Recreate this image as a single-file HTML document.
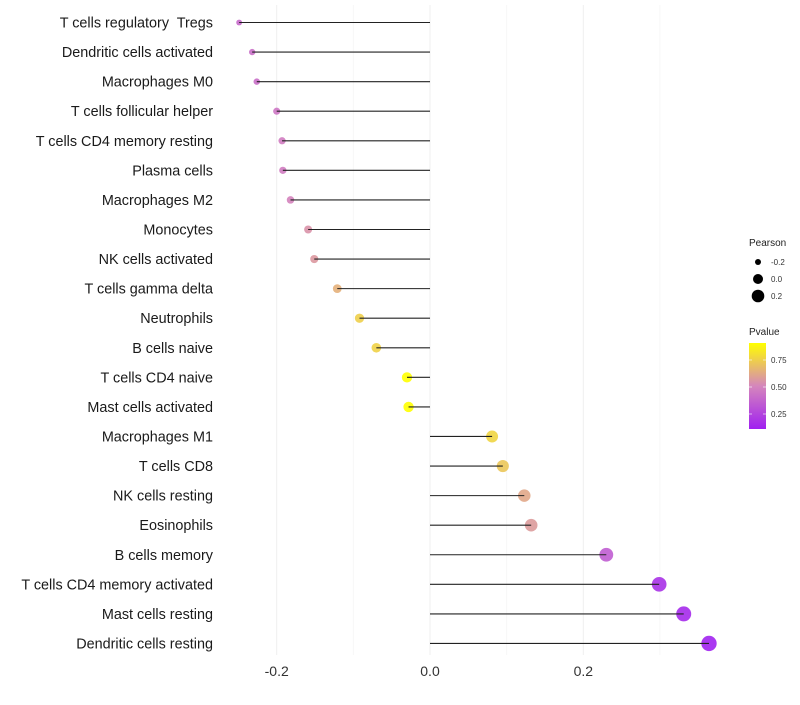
<!DOCTYPE html>
<html><head><meta charset="utf-8"><style>
body{margin:0;background:#fff;}
svg text{font-family:"Liberation Sans",sans-serif;white-space:pre;}
</style></head><body>
<svg id="chart" width="800" height="700" xmlns="http://www.w3.org/2000/svg">
<g id="grid"></g>
<g id="marks"></g>
<g id="labels"></g>
<g id="xticks"></g>
<g>
<text x="749" y="246" font-size="10" fill="#222">Pearson</text>
<circle cx="758" cy="262" r="3" fill="#000"/>
<text x="771" y="265" font-size="8" fill="#333">-0.2</text>
<circle cx="758" cy="279" r="5" fill="#000"/>
<text x="771" y="282" font-size="8" fill="#333">0.0</text>
<circle cx="758" cy="296" r="6.3" fill="#000"/>
<text x="771" y="299" font-size="8" fill="#333">0.2</text>
</g>
<g>
<defs><linearGradient id="pg" x1="0" y1="1" x2="0" y2="0">
<stop offset="0" stop-color="#A020F0"/><stop offset="0.5" stop-color="#D586BC"/><stop offset="1" stop-color="#FFFF00"/>
</linearGradient></defs>
<text x="749" y="335" font-size="10" fill="#222">Pvalue</text>
<rect x="749" y="343" width="17" height="86" fill="url(#pg)"/>
<line x1="749" x2="752" y1="360" y2="360" stroke="#fff" stroke-opacity="0.6"/><line x1="763" x2="766" y1="360" y2="360" stroke="#fff" stroke-opacity="0.6"/>
<line x1="749" x2="752" y1="387" y2="387" stroke="#fff" stroke-opacity="0.6"/><line x1="763" x2="766" y1="387" y2="387" stroke="#fff" stroke-opacity="0.6"/>
<line x1="749" x2="752" y1="414" y2="414" stroke="#fff" stroke-opacity="0.6"/><line x1="763" x2="766" y1="414" y2="414" stroke="#fff" stroke-opacity="0.6"/>
<text x="771" y="363" font-size="8" fill="#333">0.75</text>
<text x="771" y="390" font-size="8" fill="#333">0.50</text>
<text x="771" y="417" font-size="8" fill="#333">0.25</text>
</g>
</svg>
<script>
const categories=["T cells regulatory  Tregs","Dendritic cells activated","Macrophages M0","T cells follicular helper","T cells CD4 memory resting","Plasma cells","Macrophages M2","Monocytes","NK cells activated","T cells gamma delta","Neutrophils","B cells naive","T cells CD4 naive","Mast cells activated","Macrophages M1","T cells CD8","NK cells resting","Eosinophils","B cells memory","T cells CD4 memory activated","Mast cells resting","Dendritic cells resting"];
const pearson=[-0.249,-0.232,-0.226,-0.2,-0.193,-0.192,-0.182,-0.159,-0.151,-0.121,-0.092,-0.07,-0.03,-0.028,0.081,0.095,0.123,0.132,0.230,0.299,0.331,0.364];
const pvalues=[0.4,0.42,0.42,0.45,0.47,0.47,0.5,0.55,0.57,0.65,0.75,0.76,0.92,0.92,0.77,0.72,0.62,0.58,0.35,0.18,0.15,0.12];
const xTicks=[-0.2,0.0,0.2];
const xTickLabels=["-0.2","0.0","0.2"];
const minorTicks=[-0.1,0.1,0.3];
const NS="http://www.w3.org/2000/svg";
function xs(v){return 430+v*766.5;}
function ys(i){return 22.5+i*29.57;}
function rs(v){return Math.sqrt(Math.max(4,29+82*v));}
function lerp(a,b,t){return a.map((x,k)=>Math.round(x+(b[k]-x)*t));}
function col(p){const lo=0.11,hi=0.91;let t=Math.min(1,Math.max(0,(p-lo)/(hi-lo)));
const A=[160,32,240],M=[213,134,188],Y=[255,255,0];
const c=t<0.5?lerp(A,M,t*2):lerp(M,Y,(t-0.5)*2);return `rgb(${c[0]},${c[1]},${c[2]})`;}
function mk(tag,attrs,parent){const e=document.createElementNS(NS,tag);for(const k in attrs)e.setAttribute(k,attrs[k]);parent.appendChild(e);return e;}
const grid=document.getElementById('grid'),marks=document.getElementById('marks'),labels=document.getElementById('labels'),xt=document.getElementById('xticks');
minorTicks.forEach(v=>{const l=mk('line',{x1:xs(v),x2:xs(v),y1:5,y2:655,stroke:'#f5f5f5','stroke-width':0.8},grid);

});
xTicks.forEach((v,i)=>{const l=mk('line',{x1:xs(v),x2:xs(v),y1:5,y2:655,stroke:'#efefef','stroke-width':1},grid);


const t=mk('text',{x:xs(v),y:676,'font-size':14,fill:'#333','text-anchor':'middle'},xt);t.textContent=xTickLabels[i];

});
categories.forEach((c,i)=>{const y=ys(i);
const cir=mk('circle',{cx:xs(pearson[i]),cy:y,r:rs(pearson[i]),fill:col(pvalues[i]),'fill-opacity':0.9},marks);


const ln=mk('line',{x1:xs(0),x2:xs(pearson[i]),y1:y,y2:y,stroke:'#222','stroke-width':1.1},marks);


const t=mk('text',{x:213,y:y+5,'font-size':14.4,fill:'#1a1a1a','text-anchor':'end'},labels);t.textContent=c;

});
</script>
</body></html>
